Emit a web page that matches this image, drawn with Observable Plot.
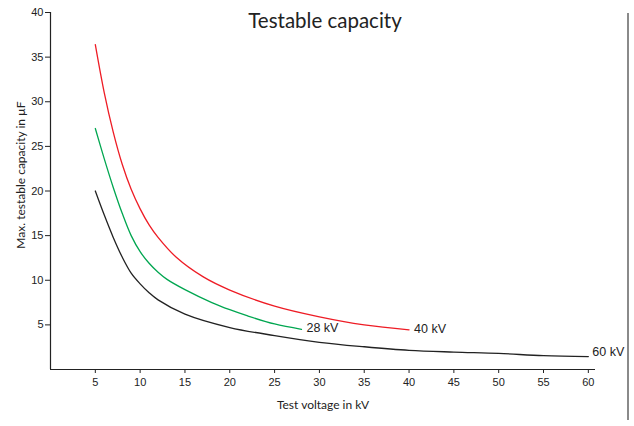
<!DOCTYPE html>
<html>
<head>
<meta charset="utf-8">
<script src="https://cdn.jsdelivr.net/npm/d3@7"></script>
<script src="https://cdn.jsdelivr.net/npm/@observablehq/plot@0.6"></script>
<style>
  html, body { margin: 0; padding: 0; background: #fff; }
  #wrap { position: relative; width: 634px; height: 426px; overflow: hidden; }
  #title { position: absolute; left: 0; width: 650px; top: 8px; text-align: center; font-family: Lato, sans-serif; font-size: 20.5px; color: #222; }
  #xlabel { position: absolute; left: 0; width: 646px; top: 397px; text-align: center; font-family: Lato, sans-serif; font-size: 12px; color: #222; }
  #ylabel { position: absolute; left: 20px; top: 175px; transform: translate(-50%, -50%) rotate(-90deg); white-space: nowrap; font-family: Lato, sans-serif; font-size: 12px; color: #222; }
  #rline { position: absolute; left: 627px; top: 13px; width: 2px; height: 407px; background: #8a8a8a; }
</style>
</head>
<body>
<div id="wrap">
  <div id="chart"></div>
  <div id="title">Testable capacity</div>
  <div id="xlabel">Test voltage in kV</div>
  <div id="ylabel">Max. testable capacity in µF</div>
  <div id="rline"></div>
</div>
<script>
// Test voltage (kV) and max testable capacity (µF) for each generator rating
const x60 = [5, 6, 7, 8, 9, 10, 11, 12, 15, 20, 25, 30, 35, 40, 45, 50, 55, 60];
const y60 = [20, 17.3, 14.8, 12.6, 10.8, 9.6, 8.6, 7.8, 6.2, 4.7, 3.8, 3.05, 2.55, 2.15, 1.95, 1.8, 1.55, 1.45];
const x28 = [5, 6, 7, 8, 9, 10, 11, 12, 13, 15, 18, 20, 22, 25, 28];
const y28 = [27, 23.6, 20.4, 17.5, 15.0, 13.2, 11.9, 10.9, 10.1, 8.95, 7.5, 6.7, 6.0, 5.1, 4.5];
const x40 = [5, 6, 7, 8, 9, 10, 11, 12, 14, 17, 20, 25, 30, 35, 40];
const y40 = [36.4, 31.0, 26.6, 23.0, 20.2, 18.0, 16.2, 14.8, 12.6, 10.4, 8.9, 7.1, 5.9, 5.0, 4.45];
const seriesNames = ["60 kV", "28 kV", "40 kV"];
const seriesColors = ["#222222", "#00a650", "#ee1c25"];
const xTicks = [5, 10, 15, 20, 25, 30, 35, 40, 45, 50, 55, 60];
const yTicks = [5, 10, 15, 20, 25, 30, 35, 40];

const series = [[x60, y60], [x28, y28], [x40, y40]];
const rows = [];
series.forEach(([xs, ys], i) => xs.forEach((x, j) => rows.push({x, y: ys[j], s: seriesNames[i]})));
const ends = series.map(([xs, ys], i) => ({x: xs[xs.length - 1], y: ys[ys.length - 1], s: seriesNames[i]}));

const chart = Plot.plot({
  width: 634,
  height: 426,
  marginLeft: 50,
  marginRight: 39,
  marginTop: 12,
  marginBottom: 57,
  style: {fontFamily: "'Liberation Sans', Arial, sans-serif", fontSize: "11px", color: "#222", background: "#fff"},
  x: {domain: [0, 60.8]},
  y: {domain: [0, 40]},
  color: {domain: seriesNames, range: seriesColors},
  marks: [
    Plot.axisX({ticks: xTicks, tickSize: 4, tickPadding: 5, label: null, tickFormat: d => d, fontSize: 11}),
    Plot.axisY({ticks: yTicks, tickSize: 5, tickPadding: 2, label: null, tickFormat: d => d, fontSize: 11}),
    Plot.ruleX([0], {y1: 0, y2: 40, stroke: "#222", strokeWidth: 1.2}),
    Plot.ruleY([0], {x1: 0, x2: 60.8, stroke: "#222", strokeWidth: 1.2}),
    Plot.line(rows, {x: "x", y: "y", z: "s", stroke: "s", strokeWidth: 1.3, curve: "catmull-rom"}),
    Plot.text(ends.filter(d => d.s !== "60 kV"), {x: "x", y: "y", text: "s", textAnchor: "start", dx: 5, dy: -1, fontSize: 12.5, fill: "#222"}),
    Plot.text(ends.filter(d => d.s === "60 kV"), {x: "x", y: "y", text: "s", textAnchor: "start", dx: 4, dy: -5, fontSize: 12.5, fill: "#222"})
  ]
});
document.getElementById("chart").appendChild(chart);
</script>
</body>
</html>
